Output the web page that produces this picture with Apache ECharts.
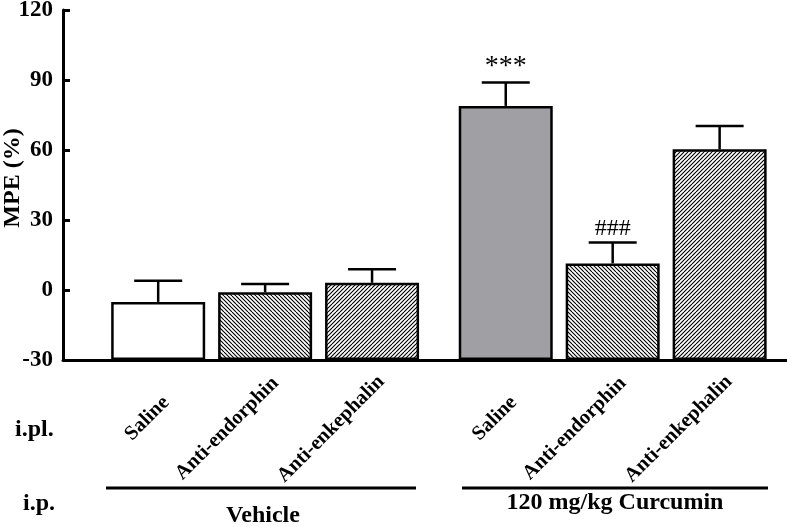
<!DOCTYPE html>
<html><head><meta charset="utf-8">
<script src="https://cdn.jsdelivr.net/npm/echarts@6/dist/echarts.min.js"></script>
<style>html,body{margin:0;padding:0;background:#fff}#c{width:787px;height:527px}</style>
</head><body><div id="c"></div>
<script>
// ---- data ----
const categories = ['Saline', 'Anti-endorphin', 'Anti-enkephalin', 'Saline', 'Anti-endorphin', 'Anti-enkephalin'];
const groupNames = ['Vehicle', '120 mg/kg Curcumin'];
const yTitle = 'MPE (%)';
const xPositions = [1, 2, 3, 4.25, 5.25, 6.25];
const meanValues = [-5.1, -1.0, 3.1, 78.9, 11.4, 60.3];
const errorValues = [9.1, 3.6, 5.8, 10.0, 9.0, 10.0];
const significance = ['', '', '', '***', '###', ''];
const fillKinds = ['white', 'back', 'fwd', 'gray', 'back', 'fwd'];
const yMin = -30, yMax = 120, yStep = 30;

// ---- styles ----
const SERIF = '"Liberation Serif","Times New Roman",serif';
const labelShift = { 'Saline': [-11, 58.5], 'Anti-endorphin': [-38, 68.5], 'Anti-enkephalin': [-41, 69] };

function hatch(dir) {
  const s = 8, p = 4;
  const c = document.createElement('canvas');
  c.width = s; c.height = s;
  const g = c.getContext('2d');
  g.fillStyle = '#fff'; g.fillRect(0, 0, s, s);
  g.strokeStyle = '#000'; g.lineWidth = 1.1;
  g.beginPath();
  for (let k = -3; k <= 3; k++) {
    if (dir === 'back') { g.moveTo(k * p, 0); g.lineTo(k * p + s, s); }
    else { g.moveTo(k * p, s); g.lineTo(k * p + s, 0); }
  }
  g.stroke();
  return { image: c, repeat: 'repeat' };
}
const fills = { white: '#ffffff', gray: '#a09fa4', back: hatch('back'), fwd: hatch('fwd') };

const chart = echarts.init(document.getElementById('c'), null, { renderer: 'canvas' });

const option = {
  animation: false,
  backgroundColor: '#fff',
  grid: { left: 63, right: 0, top: 10, bottom: 167, containLabel: false, outerBoundsMode: 'none' },
  xAxis: {
    type: 'value', min: 0.11, max: 6.88,
    axisLine: { show: true, onZero: false, lineStyle: { color: '#000', width: 3 } },
    axisTick: { show: false }, axisLabel: { show: false }, splitLine: { show: false }
  },
  yAxis: {
    type: 'value', min: yMin, max: yMax, interval: yStep, startValue: yMin,
    axisLine: { show: true, onZero: false, lineStyle: { color: '#000', width: 3 } },
    axisTick: { show: true, inside: true, length: 7, lineStyle: { color: '#000', width: 3 } },
    axisLabel: { color: '#000', fontFamily: SERIF, fontWeight: 'bold', fontSize: 23, margin: 10 },
    splitLine: { show: false }
  },
  series: [
    {
      type: 'bar', barWidth: 94, z: 2,
      itemStyle: { borderColor: '#000', borderWidth: 2.5 },
      data: xPositions.map((x, i) => ({ value: [x, meanValues[i]], itemStyle: { color: fills[fillKinds[i]] } }))
    },
    {
      type: 'custom', z: 3, clip: false,
      data: xPositions.map((x, i) => [x, meanValues[i], errorValues[i], i]),
      renderItem: function (params, api) {
        const x = api.value(0), m = api.value(1), e = api.value(2), i = api.value(3);
        const base = api.coord([x, m]);
        const top = api.coord([x, m + e]);
        const half = 24;
        const ls = { stroke: '#000', lineWidth: 2.5 };
        const children = [
          { type: 'line', shape: { x1: top[0], y1: base[1], x2: top[0], y2: top[1] }, style: ls },
          { type: 'line', shape: { x1: top[0] - half, y1: top[1], x2: top[0] + half, y2: top[1] }, style: ls }
        ];
        const sig = significance[i];
        if (sig) {
          children.push({
            type: 'text',
            style: {
              text: sig, x: top[0], y: top[1] - 2, align: 'center', verticalAlign: 'bottom',
              fill: '#000', fontFamily: SERIF, fontSize: sig === '***' ? 28 : 24
            }
          });
        }
        return { type: 'group', children: children };
      }
    },
    {
      type: 'custom', z: 3, clip: false, silent: true,
      data: xPositions.map((x, i) => [x, i]),
      renderItem: function (params, api) {
        const x = api.value(0), i = api.value(1);
        const p = api.coord([x, yMin]);
        const name = categories[i];
        const sh = labelShift[name];
        return {
          type: 'text', x: p[0] + sh[0], y: p[1] + sh[1], rotation: Math.PI / 4,
          style: {
            text: name, x: 0, y: 0, align: 'center', verticalAlign: 'middle',
            fill: '#000', fontFamily: SERIF, fontWeight: 'bold', fontSize: 20.5
          }
        };
      }
    }
  ],
  graphic: [
    { type: 'text', x: 13, y: 178, rotation: Math.PI / 2, style: { text: yTitle, align: 'center', verticalAlign: 'middle', fill: '#000', fontFamily: SERIF, fontWeight: 'bold', fontSize: 24 } },
    { type: 'line', shape: { x1: 106, y1: 488, x2: 416, y2: 488 }, style: { stroke: '#000', lineWidth: 3 } },
    { type: 'line', shape: { x1: 462, y1: 488, x2: 768, y2: 488 }, style: { stroke: '#000', lineWidth: 3 } },
    { type: 'text', x: 263, y: 516, style: { text: groupNames[0], align: 'center', verticalAlign: 'middle', fill: '#000', fontFamily: SERIF, fontWeight: 'bold', fontSize: 24 } },
    { type: 'text', x: 615, y: 503, style: { text: groupNames[1], align: 'center', verticalAlign: 'middle', fill: '#000', fontFamily: SERIF, fontWeight: 'bold', fontSize: 24 } },
    { type: 'text', x: 15, y: 430, style: { text: 'i.pl.', align: 'left', verticalAlign: 'middle', fill: '#000', fontFamily: SERIF, fontWeight: 'bold', fontSize: 24 } },
    { type: 'text', x: 23, y: 504, style: { text: 'i.p.', align: 'left', verticalAlign: 'middle', fill: '#000', fontFamily: SERIF, fontWeight: 'bold', fontSize: 24 } }
  ]
};
chart.setOption(option);
</script>
</body></html>
